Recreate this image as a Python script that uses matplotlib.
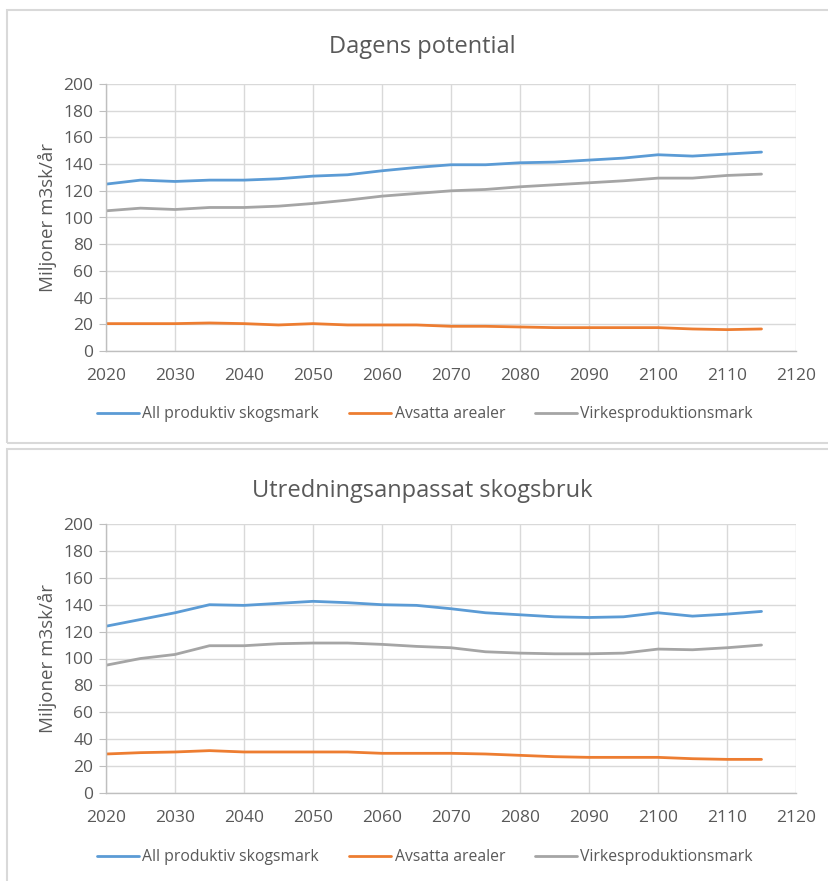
import matplotlib
matplotlib.use('Agg')
from matplotlib import pyplot as plt
from matplotlib.patches import Rectangle

plt.rcParams['font.family'] = ['Open Sans', 'DejaVu Sans']

years = list(range(2020, 2120, 5))
series_names = ['All produktiv skogsmark', 'Avsatta arealer', 'Virkesproduktionsmark']
colors = ['#5B9BD5', '#ED7D31', '#A5A5A5']

# Dagens potential
dagens_all = [125, 128, 127, 128, 128, 129, 131, 132, 135, 137.5,
              139.5, 139.5, 141, 141.5, 143, 144.5, 147, 146, 147.5, 149]
dagens_avsatta = [20.5, 20.5, 20.5, 21, 20.5, 19.5, 20.5, 19.5, 19.5, 19.5,
                  18.5, 18.5, 18, 17.5, 17.5, 17.5, 17.5, 16.5, 16, 16.5]
dagens_virkes = [105, 107, 106, 107.5, 107.5, 108.5, 110.5, 113, 116, 118,
                 120, 121, 123, 124.5, 126, 127.5, 129.5, 129.5, 131.5, 132.5]

# Utredningsanpassat skogsbruk
utr_all = [124, 129, 134, 140, 139.5, 141, 142.5, 141.5, 140, 139.5,
           137, 134, 132.5, 131, 130.5, 131, 134, 131.5, 133, 135]
utr_avsatta = [29, 30, 30.5, 31.5, 30.5, 30.5, 30.5, 30.5, 29.5, 29.5,
               29.5, 29, 28, 27, 26.5, 26.5, 26.5, 25.5, 25, 25]
utr_virkes = [95, 100, 103, 109.5, 109.5, 111, 111.5, 111.5, 110.5, 109,
              108, 105, 104, 103.5, 103.5, 104, 107, 106.5, 108, 110]

panels = [
    ('Dagens potential', [dagens_all, dagens_avsatta, dagens_virkes]),
    ('Utredningsanpassat skogsbruk', [utr_all, utr_avsatta, utr_virkes]),
]

W, H = 829, 881
fig = plt.figure(figsize=(W / 100, H / 100), dpi=100)

text_col = '#595959'
grid_col = '#d9d9d9'

# panel frames (pixel coords from top)
frames = [(7, 10, 443), (7, 449, 890)]
for x0, y0, y1 in frames:
    fig.patches.append(Rectangle((x0 / W, 1 - y1 / H), 1.05, (y1 - y0) / H,
                                 transform=fig.transFigure, facecolor='none',
                                 edgecolor='#d9d9d9', linewidth=1.5, zorder=-1))

# axes boxes: (top px, bottom px, title y, legend y)
ax_rows = [(84, 351, 47, 414), (524, 793, 491, 857)]

for (title, vals), (top, bot, title_y, leg_y) in zip(panels, ax_rows):
    ax = fig.add_axes([106 / W, 1 - bot / H, (796 - 106) / W, (bot - top) / H])
    for v, name, c in zip(vals, series_names, colors):
        ax.plot(years, v, color=c, lw=2.0, label=name, solid_capstyle='round')
    ax.set_xlim(2020, 2120)
    ax.set_ylim(0, 200)
    ax.set_xticks(range(2020, 2121, 10))
    ax.set_yticks(range(0, 201, 20))
    ax.grid(True, color=grid_col, lw=1.0)
    ax.set_axisbelow(True)
    for s in ['top', 'right']:
        ax.spines[s].set_visible(False)
    for s in ['left', 'bottom']:
        ax.spines[s].set_color('#bfbfbf')
        ax.spines[s].set_linewidth(1.0)
    ax.tick_params(axis='y', length=5, color='#bfbfbf', labelsize=12.5, labelcolor=text_col, pad=4)
    ax.tick_params(axis='x', length=0, labelsize=12.5, labelcolor=text_col, pad=12)
    ax.set_ylabel('Miljoner m3sk/år', fontsize=13.5, color=text_col, labelpad=5)
    fig.text(422 / W, 1 - title_y / H, title, ha='center', va='center',
             fontsize=17, color=text_col)
    ax.legend(loc='center', bbox_to_anchor=(425 / W, 1 - leg_y / H), bbox_transform=fig.transFigure,
              ncol=3, frameon=False, fontsize=11.3, handlelength=2.7, handletextpad=0.2,
              columnspacing=1.9, labelcolor=text_col)

fig.savefig('out.png', dpi=100, facecolor='white')
